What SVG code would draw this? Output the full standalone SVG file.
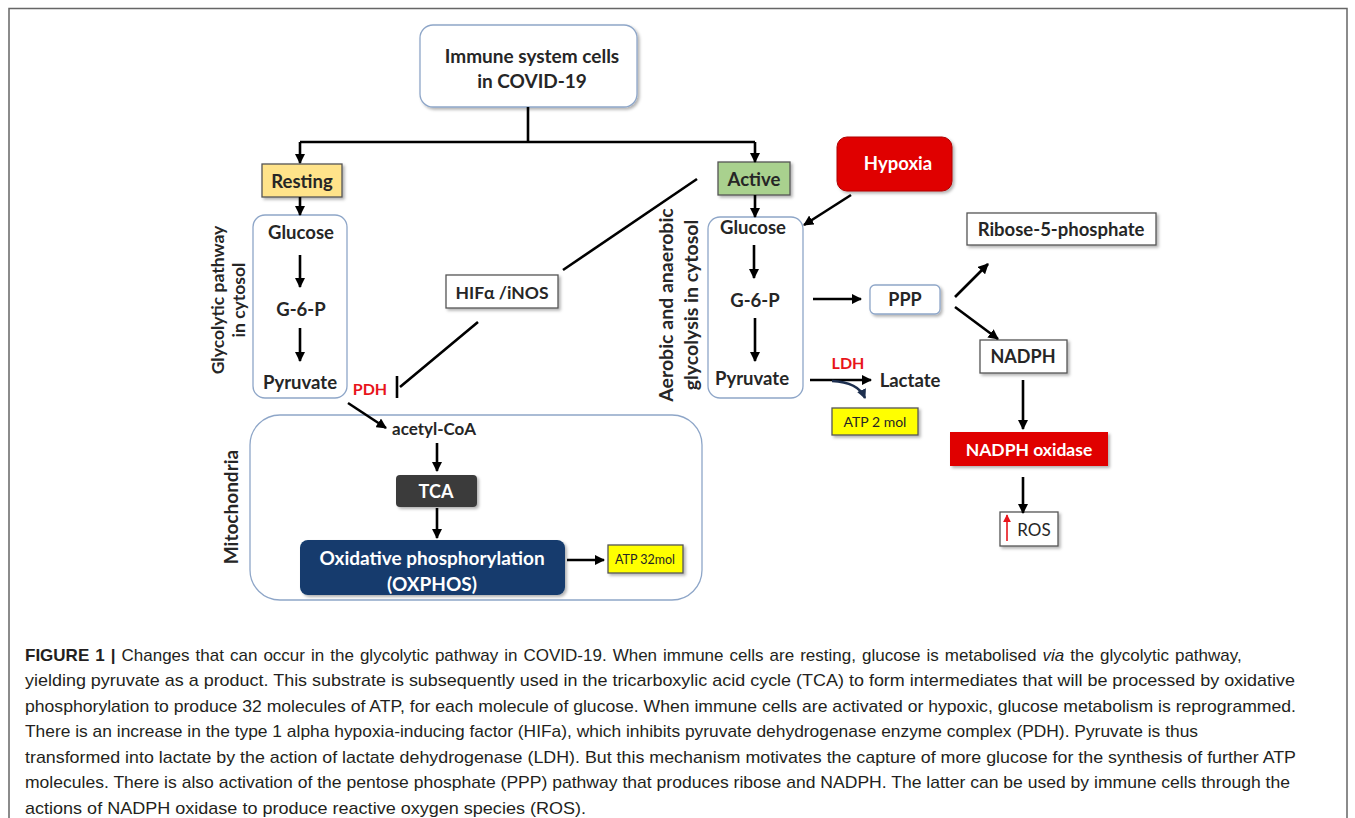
<svg xmlns="http://www.w3.org/2000/svg" width="1355" height="818" viewBox="0 0 1355 818">
<defs>
<style>
.lbl{font-family:Lato,"Liberation Sans",sans-serif;font-weight:bold;fill:#262626;text-anchor:middle;dominant-baseline:central}
.wht{fill:#ffffff}
.red{fill:#e8141b}
.reg{font-family:Lato,"Liberation Sans",sans-serif;fill:#262626;text-anchor:middle;dominant-baseline:central}
.cap{font-family:"Liberation Sans",Arial,sans-serif;font-size:17px;fill:#231f20}
.ln{stroke:#000;stroke-width:2.6;fill:none}
.ar{stroke:#000;stroke-width:2.6;fill:none;marker-end:url(#ah)}
.soft{fill:#fff;stroke:#8ea6c8;stroke-width:1.3}
.box{stroke:#555;stroke-width:1.3}
</style>
<marker id="ah" viewBox="0 0 10 10" refX="9" refY="5" markerWidth="4" markerHeight="4" orient="auto" markerUnits="strokeWidth">
<path d="M0,0 L10,5 L0,10 z" fill="#000"/>
</marker>
<marker id="ahb" viewBox="0 0 10 10" refX="9" refY="5" markerWidth="4" markerHeight="4" orient="auto" markerUnits="strokeWidth">
<path d="M0,0 L10,5 L0,10 z" fill="#1d2f4f"/>
</marker>
<marker id="ahr" viewBox="0 0 10 10" refX="9" refY="5" markerWidth="5" markerHeight="5" orient="auto" markerUnits="strokeWidth">
<path d="M0,0 L10,5 L0,10 z" fill="#e8141b"/>
</marker>
<filter id="sh" x="-10%" y="-10%" width="130%" height="140%">
<feDropShadow dx="2" dy="2" stdDeviation="1.5" flood-color="#000" flood-opacity="0.3"/>
</filter>
</defs>
<rect width="1355" height="818" fill="#fff"/>
<path d="M9,818 V8.5 H1347 V818" fill="none" stroke="#666" stroke-width="1.5"/>

<g id="immune">
<rect class="soft" x="420" y="25" width="217" height="82" rx="13" filter="url(#sh)"/>
<text class="lbl" x="532" y="55" font-size="19">Immune system cells</text>
<text class="lbl" x="532" y="80" font-size="19">in COVID-19</text>
</g>

<g id="resting">
<rect class="box" x="262" y="164" width="80" height="33" fill="#ffe38a" filter="url(#sh)"/>
<text class="lbl" x="302" y="181" font-size="18.5">Resting</text>
</g>

<g id="active">
<rect class="box" x="718" y="162" width="72" height="33" fill="#a9d18e" filter="url(#sh)"/>
<text class="lbl" x="754" y="179" font-size="18.5">Active</text>
</g>

<g id="hypoxia">
<rect x="837" y="137" width="115" height="54" rx="10" fill="#e00000" stroke="#b00000" stroke-width="1" filter="url(#sh)"/>
<text class="lbl wht" x="898" y="163" font-size="18.5">Hypoxia</text>
</g>

<g id="glyco-left">
<rect class="soft" x="253" y="215" width="94" height="183" rx="12"/>
<text class="lbl" x="301" y="232" font-size="18.5">Glucose</text>
<text class="lbl" x="301" y="309" font-size="18.5">G-6-P</text>
<text class="lbl" x="300" y="382" font-size="18.5">Pyruvate</text>
</g>
<g id="label-glyco-left" transform="translate(228,300) rotate(-90)">
<text class="lbl" x="0" y="-11" font-size="17.5">Glycolytic pathway</text>
<text class="lbl" x="0" y="10" font-size="17.5">in cytosol</text>
</g>

<g id="hif">
<rect class="box" x="446" y="275" width="112" height="33" fill="#fff" filter="url(#sh)"/>
<text class="lbl" x="502" y="292" font-size="17.5">HIFα /iNOS</text>
</g>

<g id="pdh">
<text class="lbl red" x="370" y="388" font-size="16">PDH</text>
</g>

<g id="mito">
<rect class="soft" x="250" y="415" width="452" height="185" rx="30"/>
<text class="lbl" x="434" y="428" font-size="17">acetyl-CoA</text>
</g>
<g id="label-mito" transform="translate(230,507) rotate(-90)">
<text class="lbl" x="0" y="0" font-size="19">Mitochondria</text>
</g>

<g id="tca">
<rect x="396" y="475" width="81" height="32" rx="4" fill="#3b3b3b" filter="url(#sh)"/>
<text class="lbl wht" x="436" y="491" font-size="18">TCA</text>
</g>

<g id="oxphos">
<rect x="300" y="540" width="265" height="55" rx="8" fill="#123b6d" filter="url(#sh)"/>
<text class="lbl wht" x="432" y="557" font-size="19">Oxidative phosphorylation</text>
<text class="lbl wht" x="432" y="583" font-size="19">(OXPHOS)</text>
</g>

<g id="atp32">
<rect class="box" x="608" y="545" width="75" height="28" fill="#ffff00" filter="url(#sh)"/>
<text class="reg" x="645" y="559" font-size="12.5">ATP 32mol</text>
</g>

<g id="glyco-right">
<rect class="soft" x="708" y="217" width="95" height="181" rx="12"/>
<text class="lbl" x="753" y="227" font-size="18.5">Glucose</text>
<text class="lbl" x="755" y="300" font-size="18.5">G-6-P</text>
<text class="lbl" x="752" y="378" font-size="18.5">Pyruvate</text>
</g>
<g id="label-glyco-right" transform="translate(677,305) rotate(-90)">
<text class="lbl" x="0" y="-12" font-size="19.5">Aerobic and anaerobic</text>
<text class="lbl" x="0" y="13" font-size="19.5">glycolysis in cytosol</text>
</g>

<g id="ldh">
<text class="lbl red" x="848" y="362" font-size="16">LDH</text>
</g>
<g id="lactate">
<text class="lbl" x="910" y="380" font-size="18.5">Lactate</text>
</g>
<g id="atp2">
<rect class="box" x="832" y="408" width="86" height="27" fill="#ffff00" filter="url(#sh)"/>
<text class="reg" x="875" y="421" font-size="14">ATP 2 mol</text>
</g>

<g id="ppp">
<rect class="soft" x="870" y="285" width="70" height="29" rx="5" filter="url(#sh)"/>
<text class="lbl" x="905" y="299" font-size="18">PPP</text>
</g>

<g id="ribose">
<rect class="box" x="967" y="213" width="189" height="32" fill="#fff" filter="url(#sh)"/>
<text class="lbl" x="1061" y="229" font-size="18.5">Ribose-5-phosphate</text>
</g>

<g id="nadph">
<rect class="box" x="980" y="340" width="87" height="33" fill="#fff" filter="url(#sh)"/>
<text class="lbl" x="1023" y="356" font-size="18">NADPH</text>
</g>

<g id="nadph-oxidase">
<rect x="950" y="432" width="158" height="34" fill="#e00000" filter="url(#sh)"/>
<text class="lbl wht" x="1029" y="449" font-size="17.5">NADPH oxidase</text>
</g>

<g id="ros">
<rect class="box" x="1000" y="512" width="58" height="34" fill="#fff" filter="url(#sh)"/>
<path d="M1007,541 V515" stroke="#e8141b" stroke-width="1.6" marker-end="url(#ahr)"/>
<text class="reg" x="1034" y="529" font-size="17">ROS</text>
</g>

<g id="connectors">
<path class="ln" d="M528,107 V142 M300,142 H755"/>
<path class="ar" d="M300,142 V163"/>
<path class="ar" d="M755,142 V162"/>
<path class="ar" d="M300,197 V215"/>
<path class="ar" d="M755,195 V217"/>
<path class="ar" d="M300,255 V287"/>
<path class="ar" d="M300,328 V361"/>
<path class="ar" d="M754,245 V278"/>
<path class="ar" d="M755,318 V361"/>
<path class="ln" d="M697,179 L563,270"/>
<path class="ln" d="M478,322 L400,387 M397,376 V398"/>
<path class="ar" d="M348,403 L386,428"/>
<path class="ar" d="M437,443 V471"/>
<path class="ar" d="M437,508 V538"/>
<path class="ar" d="M567,560 H604"/>
<path class="ar" d="M851,195 L804,225"/>
<path class="ar" d="M813,299 H861"/>
<path class="ar" d="M955,297 L988,264"/>
<path class="ar" d="M955,307 L998,339"/>
<path class="ar" d="M1023,380 V429"/>
<path class="ar" d="M1023,477 V513"/>
<path class="ar" d="M810,380 H871"/>
<path d="M832,381 Q858,382 865,398" fill="none" stroke="#1d2f4f" stroke-width="2.4" marker-end="url(#ahb)"/>
</g>

<g id="caption">
<text class="cap" x="25" y="661" word-spacing="1.3"><tspan font-weight="bold">FIGURE 1 |</tspan> Changes that can occur in the glycolytic pathway in COVID-19. When immune cells are resting, glucose is metabolised <tspan font-style="italic">via</tspan> the glycolytic pathway,</text>
<text class="cap" x="25" y="686" textLength="1270" lengthAdjust="spacingAndGlyphs">yielding pyruvate as a product. This substrate is subsequently used in the tricarboxylic acid cycle (TCA) to form intermediates that will be processed by oxidative</text>
<text class="cap" x="25" y="712" textLength="1271" lengthAdjust="spacingAndGlyphs">phosphorylation to produce 32 molecules of ATP, for each molecule of glucose. When immune cells are activated or hypoxic, glucose metabolism is reprogrammed.</text>
<text class="cap" x="25" y="737" textLength="1173" lengthAdjust="spacingAndGlyphs">There is an increase in the type 1 alpha hypoxia-inducing factor (HIFa), which inhibits pyruvate dehydrogenase enzyme complex (PDH). Pyruvate is thus</text>
<text class="cap" x="25" y="763" textLength="1271" lengthAdjust="spacingAndGlyphs">transformed into lactate by the action of lactate dehydrogenase (LDH). But this mechanism motivates the capture of more glucose for the synthesis of further ATP</text>
<text class="cap" x="25" y="788" textLength="1265" lengthAdjust="spacingAndGlyphs">molecules. There is also activation of the pentose phosphate (PPP) pathway that produces ribose and NADPH. The latter can be used by immune cells through the</text>
<text class="cap" x="25" y="814" textLength="561" lengthAdjust="spacingAndGlyphs">actions of NADPH oxidase to produce reactive oxygen species (ROS).</text>
</g>
</svg>
